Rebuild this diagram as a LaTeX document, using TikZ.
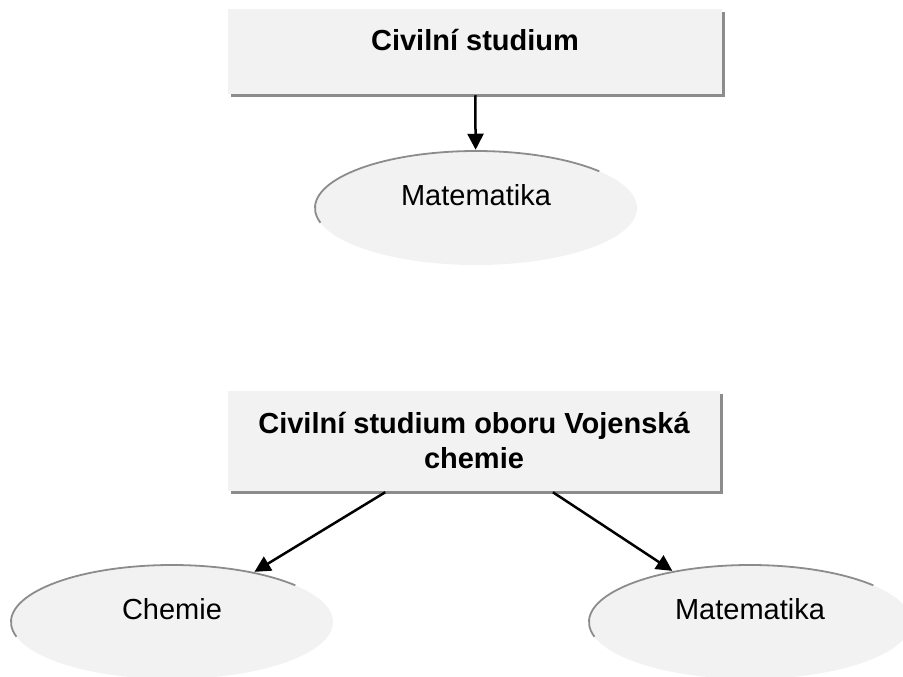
\documentclass[tikz,border=0pt]{standalone}
\usepackage{fontspec}
\setmainfont{Liberation Sans}
\usetikzlibrary{shapes.geometric,shadows,arrows.meta}

\definecolor{boxgray}{HTML}{F2F2F2}
\definecolor{shadegray}{HTML}{8C8C8C}

\begin{document}
\begin{tikzpicture}[x=1pt,y=-1pt,line width=2.5pt,->,>={Triangle[length=16pt,width=16pt]}]
\tikzstyle{box}=[rectangle,fill=boxgray,inner sep=0pt,font=\fontsize{29}{35}\selectfont\bfseries,
  drop shadow={shadow xshift=3pt,shadow yshift=-3pt,fill=shadegray,opacity=1}]
\tikzstyle{oval}=[ellipse,fill=boxgray,inner sep=0pt,minimum width=322pt,minimum height=114pt,
  text height=21pt,text depth=26pt,font=\fontsize{29}{35}\selectfont]
\tikzstyle{rim}=[-,draw=shadegray,line width=1.8pt]

\useasboundingbox (0,0) rectangle (903,677);

\node[box,minimum width=494pt,minimum height=85pt,text height=27pt,text depth=29pt] (cs) at (475,51.5) {Civilní studium};
\node[oval] (m1) at (476,208) {Matematika};

\node[box,minimum width=492pt,minimum height=100pt,align=center] (csv) at (474,441) {Civilní studium oboru Vojenská\\chemie};
\node[oval] (ch) at (172,622) {Chemie};
\node[oval] (m2) at (750,622) {Matematika};

% grey rim on the upper left of the ovals
\foreach \o in {m1,ch,m2}
  \draw[rim] (\o.center) ++(165:161 and 57) arc[start angle=165,end angle=320,x radius=161,y radius=57];

\path
(cs) edge (m1)
(csv.210) edge (ch)
(csv.327) edge (m2);

\end{tikzpicture}
\end{document}
